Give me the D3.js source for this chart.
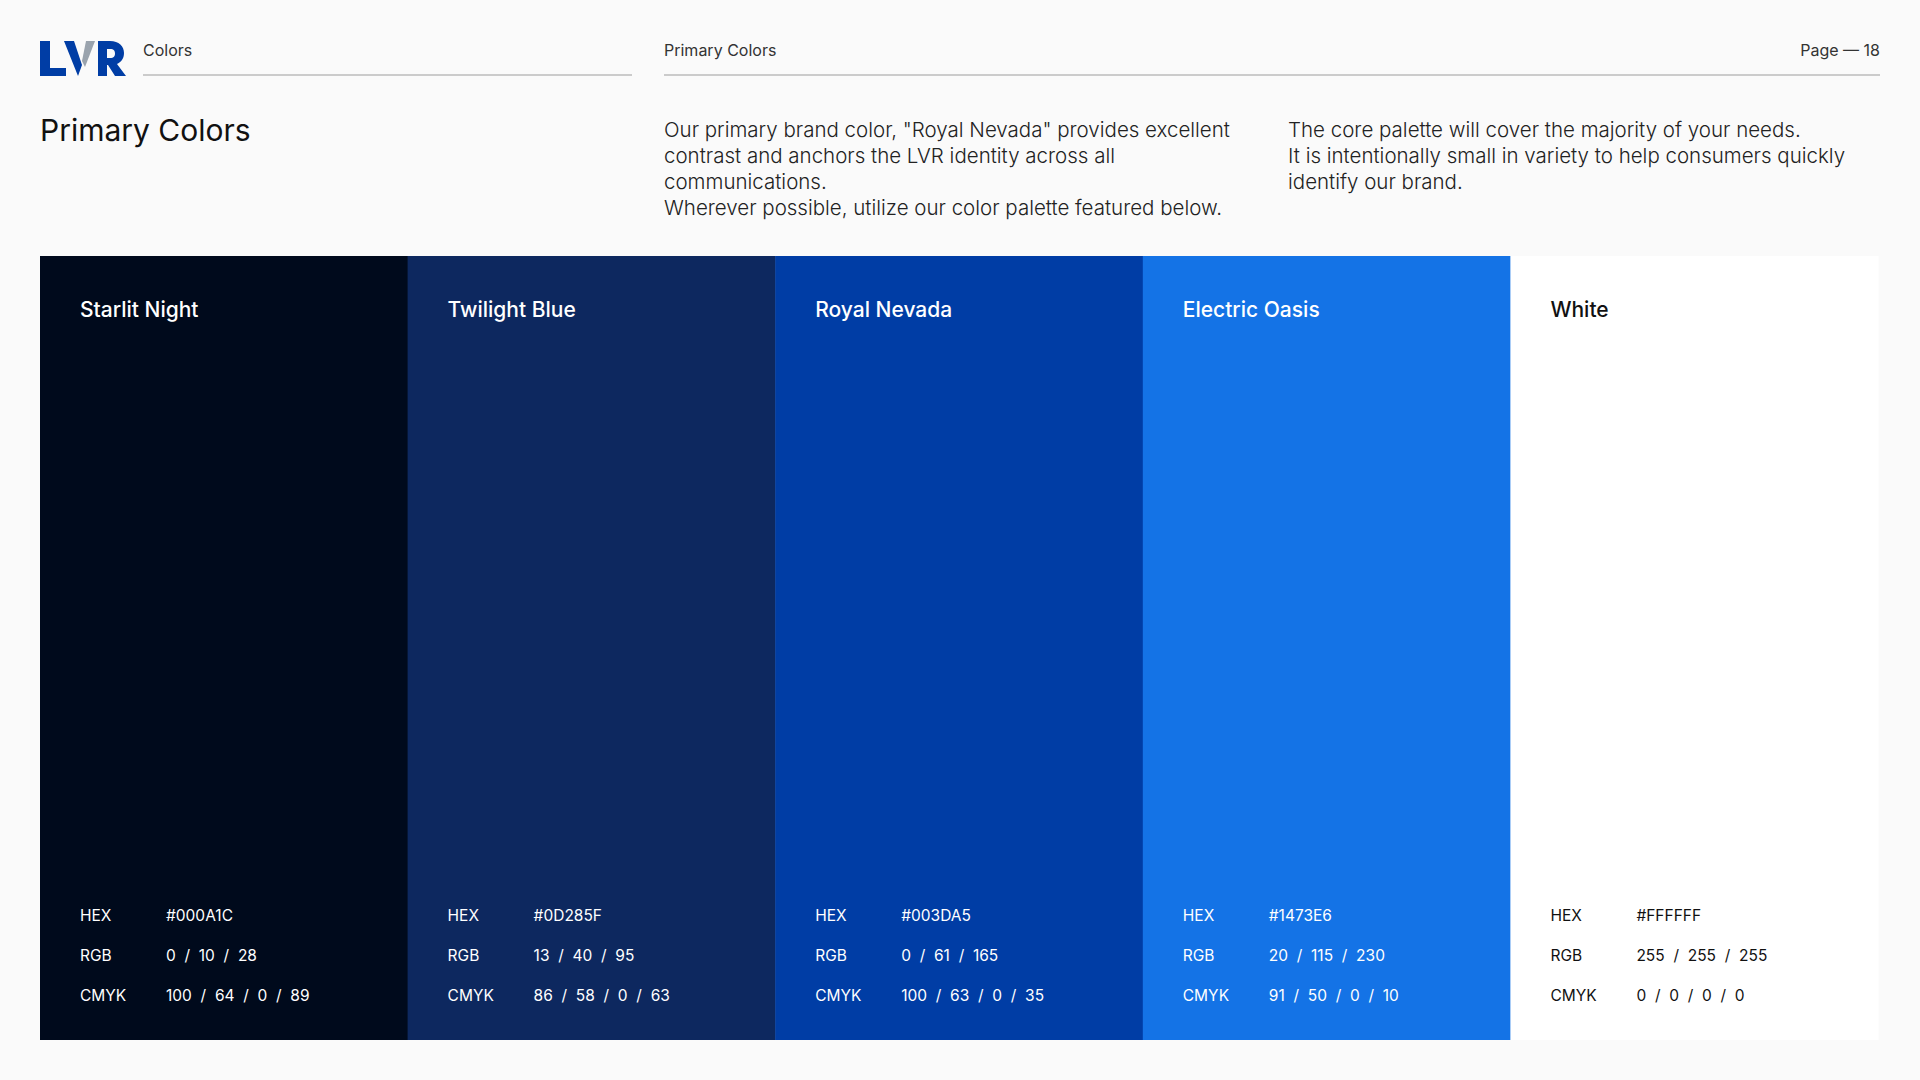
<!DOCTYPE html>
<html><head><meta charset="utf-8">
<script src="https://cdn.jsdelivr.net/npm/d3@7"></script>
<style>body{margin:0;background:#fafafa;} svg{display:block;font-family:Inter,"Open Sans",sans-serif;}</style>
</head><body>
<script>
// swatch data
var names = ["Starlit Night", "Twilight Blue", "Royal Nevada", "Electric Oasis", "White"];
var hexes = ["#000A1C", "#0D285F", "#003DA5", "#1473E6", "#FFFFFF"];
var rgbs = ["0 / 10 / 28", "13 / 40 / 95", "0 / 61 / 165", "20 / 115 / 230", "255 / 255 / 255"];
var cmyks = ["100 / 64 / 0 / 89", "86 / 58 / 0 / 63", "100 / 63 / 0 / 35", "91 / 50 / 0 / 10", "0 / 0 / 0 / 0"];
var para1 = ["Our primary brand color, \"Royal Nevada\" provides excellent", "contrast and anchors the LVR identity across all", "communications.", "Wherever possible, utilize our color palette featured below."];
var para2 = ["The core palette will cover the majority of your needs.", "It is intentionally small in variety to help consumers quickly", "identify our brand."];

var width = 1920, height = 1080;
var svg = d3.select("body").append("svg").attr("width", width).attr("height", height);
svg.append("rect").attr("width", width).attr("height", height).attr("fill", "#fafafa");

// logo
var logo = svg.append("g");
logo.append("path").attr("d", "M40 41 h10 v27 h16 v8 h-26z").attr("fill", "#003DA5");
logo.append("path").attr("d", "M64 41 h10 l8 24 l-4 11 z").attr("fill", "#003DA5");
logo.append("path").attr("d", "M86 41 h9 l-10 26 l-3 -6 z").attr("fill", "#9aa3ad");
logo.append("path").attr("d", "M98 41 h12 c9 0 14 5 14 12 c0 6 -3 9 -7 11 l9 12 h-11 l-7 -11 h-1 v11 h-9z M107 49 v9 h3 c4 0 5 -2 5 -4.5 c0 -2.5 -1 -4.5 -5 -4.5z")
  .attr("fill", "#003DA5").attr("fill-rule", "evenodd");

// header
var hdr = svg.append("g").attr("font-size", 16).attr("fill", "#333");
hdr.append("text").attr("x", 143).attr("y", 56).text("Colors");
hdr.append("text").attr("x", 664).attr("y", 56).text("Primary Colors");
hdr.append("text").attr("x", 1880).attr("y", 56).attr("text-anchor", "end").text("Page \u2014 18");
svg.append("line").attr("x1", 143).attr("x2", 632).attr("y1", 75).attr("y2", 75).attr("stroke", "#bbb").attr("stroke-width", 1.5);
svg.append("line").attr("x1", 664).attr("x2", 1880).attr("y1", 75).attr("y2", 75).attr("stroke", "#bbb").attr("stroke-width", 1.5);

svg.append("text").attr("x", 40).attr("y", 141).attr("font-size", 30).attr("fill", "#111").text("Primary Colors");

function para(lines, x) {
  svg.append("g").attr("font-size", 20.5).attr("font-weight", 300).attr("fill", "#222")
    .selectAll("text").data(lines).join("text")
    .attr("x", x).attr("y", function (d, i) { return 137 + i * 26; }).text(function (d) { return d; });
}
para(para1, 664);
para(para2, 1288);

// swatches
var x = d3.scaleBand().domain(names).range([40, 1878]);
var swTop = 256, swBottom = 1040;
var g = svg.selectAll("g.sw").data(names).join("g").attr("class", "sw")
  .attr("transform", function (d) { return "translate(" + x(d) + ",0)"; });
g.append("rect").attr("y", swTop).attr("width", x.bandwidth() + 0.5).attr("height", swBottom - swTop)
  .attr("fill", function (d, i) { return hexes[i]; });
function tc(i) { return i == 4 ? "#111" : "#fff"; }
g.append("text").attr("x", 40).attr("y", 317).attr("font-size", 21).attr("font-weight", 500)
  .attr("fill", function (d, i) { return tc(i); }).text(function (d) { return d; });
var rows = [["HEX", hexes], ["RGB", rgbs], ["CMYK", cmyks]];
rows.forEach(function (r, k) {
  var yy = 921 + k * 40;
  g.append("text").attr("x", 40).attr("y", yy).attr("font-size", 15.5)
    .attr("fill", function (d, i) { return tc(i); }).text(r[0]);
  g.append("text").attr("x", 126).attr("y", yy).attr("font-size", 15.5).attr("xml:space", "preserve")
    .style("white-space", "pre")
    .attr("fill", function (d, i) { return tc(i); }).text(function (d, i) { return r[1][i].split(" / ").join("  /  "); });
});
</script>
</body></html>
